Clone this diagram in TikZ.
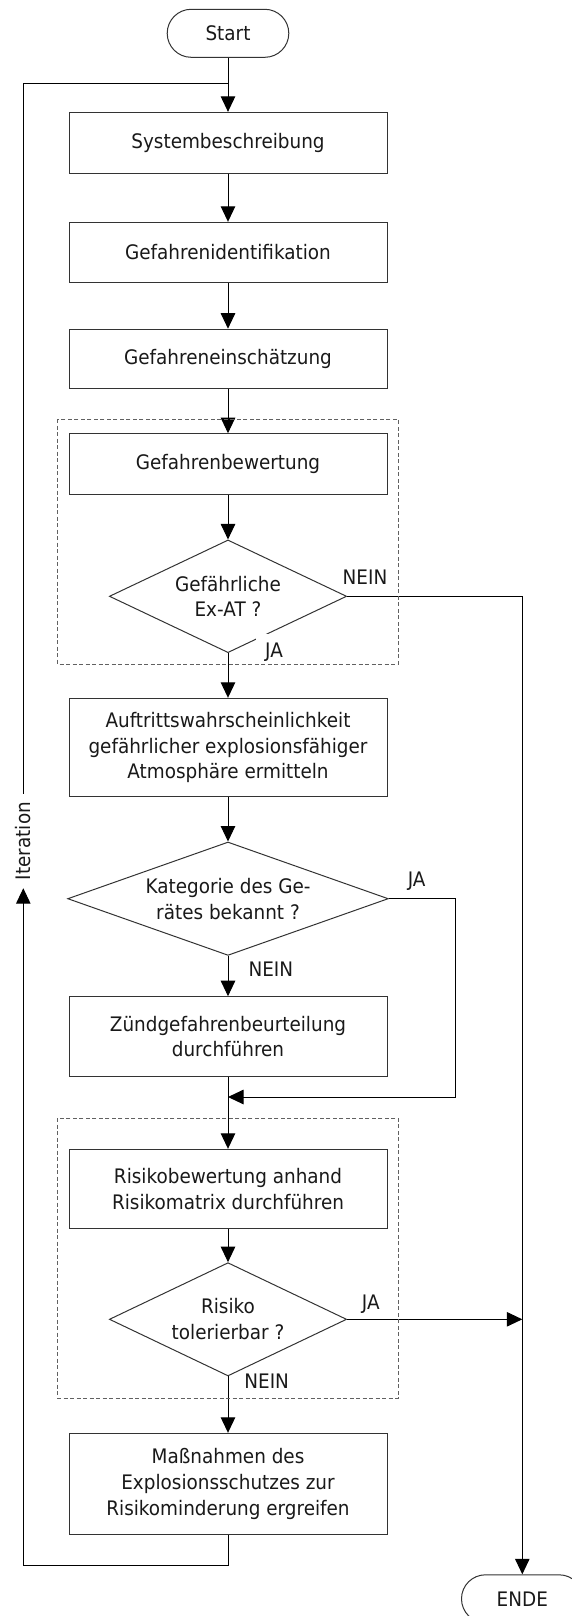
\documentclass[tikz,border=0pt]{standalone}
\usepackage{fontspec}
\setmainfont{DejaVu Sans}[FakeStretch=0.92]
\usetikzlibrary{arrows.meta,shapes.geometric}

\begin{document}
\begin{tikzpicture}[x=1pt,y=-1pt,
  every node/.style={font=\fontsize{20}{25.7}\selectfont, text=black!90},
  stepbox/.style={draw=black!80, line width=1pt, minimum width=318pt, inner sep=0pt, align=center},
  terminal/.style={draw=black!80, line width=1pt, rounded corners=24pt,
    minimum width=121.6pt, minimum height=48pt, inner sep=0pt},
  decision/.style={draw=black!80, line width=1pt, diamond, inner sep=0pt, align=center},
  flow/.style={draw=black, line width=1pt, -{Triangle[length=15.5pt,width=14.5pt]}},
  plainline/.style={draw=black, line width=1pt},
  group/.style={draw=black!62, line width=1pt, dash pattern=on 4pt off 2.5pt},
  answer/.style={inner sep=2pt},
]
\useasboundingbox (0,0) rectangle (571,1616);

% terminals and process steps
\node[terminal] (start) at (228,33.3) {Start};
\node[stepbox, minimum height=60.7pt] (b1) at (228,142.7) {Systembeschreibung};
\node[stepbox, minimum height=60.4pt] (b2) at (228,252.5) {Gefahrenidentifikation};
\node[stepbox, minimum height=59.6pt] (b3) at (228,359) {Gefahreneinschätzung};
\node[stepbox, minimum height=60.6pt] (b4) at (228,464) {Gefahrenbewertung};
\node[decision, minimum width=237.3pt, minimum height=112.7pt, aspect=2.1] (d1) at (228,596.3) {Gefährliche\\Ex-AT ?};
\node[stepbox, minimum height=98.4pt] (b5) at (228,747.5) {Auftrittswahrscheinlichkeit\\gefährlicher explosionsfähiger\\Atmosphäre ermitteln};
\node[decision, minimum width=320.6pt, minimum height=113.4pt, aspect=2.83] (d2) at (228,898.7) {Kategorie des Ge-\\rätes bekannt ?};
\node[stepbox, minimum height=79.6pt] (b6) at (228,1036.5) {Zündgefahrenbeurteilung\\durchführen};
\node[stepbox, minimum height=79.4pt] (b7) at (228,1189) {Risikobewertung anhand\\Risikomatrix durchführen};
\node[decision, minimum width=237.3pt, minimum height=113.3pt, aspect=2.1] (d3) at (228,1319.3) {Risiko\\tolerierbar ?};
\node[stepbox, minimum height=101.4pt] (b8) at (228,1484) {Maßnahmen des\\Explosionsschutzes zur\\Risikominderung ergreifen};
\node[terminal] (ende) at (522.3,1598.8) {ENDE};

% branch labels
\node[answer] (nein1) at (365,577.5) {NEIN};
\node[answer, fill=white, inner sep=9pt] (ja1) at (274,652) {JA};
\node[answer] (ja2) at (416.7,881.7) {JA};
\node[answer] (nein2) at (270.8,969) {NEIN};
\node[answer] (ja3) at (370.8,1304) {JA};
\node[answer] (nein3) at (266.7,1381) {NEIN};

% main flow
\draw[flow] (start) -- (b1);
\draw[flow] (b1) -- (b2);
\draw[flow] (b2) -- (b3);
\draw[flow] (b3) -- (b4);
\draw[flow] (b4) -- (d1);
\draw[flow] (d1) -- (b5);
\draw[flow] (b5) -- (d2);
\draw[flow] (d2) -- (b6);
\draw[flow] (b6) -- (b7);
\draw[flow] (b7) -- (d3);
\draw[flow] (d3) -- (b8);

% exits to ENDE
\draw[flow] (d1.east) -| (ende.north);
\draw[flow] (d3.east) -- (d3.east -| ende.north);

% bypass of the ignition hazard assessment
\coordinate (bypass) at (455,1097);
\coordinate (merge) at (228,1097);
\draw[flow] (d2.east) -| (bypass) -- (merge);

% iteration loop
\coordinate (join) at (228,84);
\coordinate (loopbottom) at (23.3,1565);
\node[rotate=90, inner xsep=8pt, inner ysep=0pt] (iter) at (23.3,841) {Iteration};
\draw[flow] (b8.south) |- (loopbottom) -- (iter.west);
\draw[plainline] (iter.east) |- (join);

% evaluation groups
\draw[group] (57.7,419) rectangle (398.3,664);
\draw[group] (57.7,1118) rectangle (398.3,1398);
\end{tikzpicture}
\end{document}
